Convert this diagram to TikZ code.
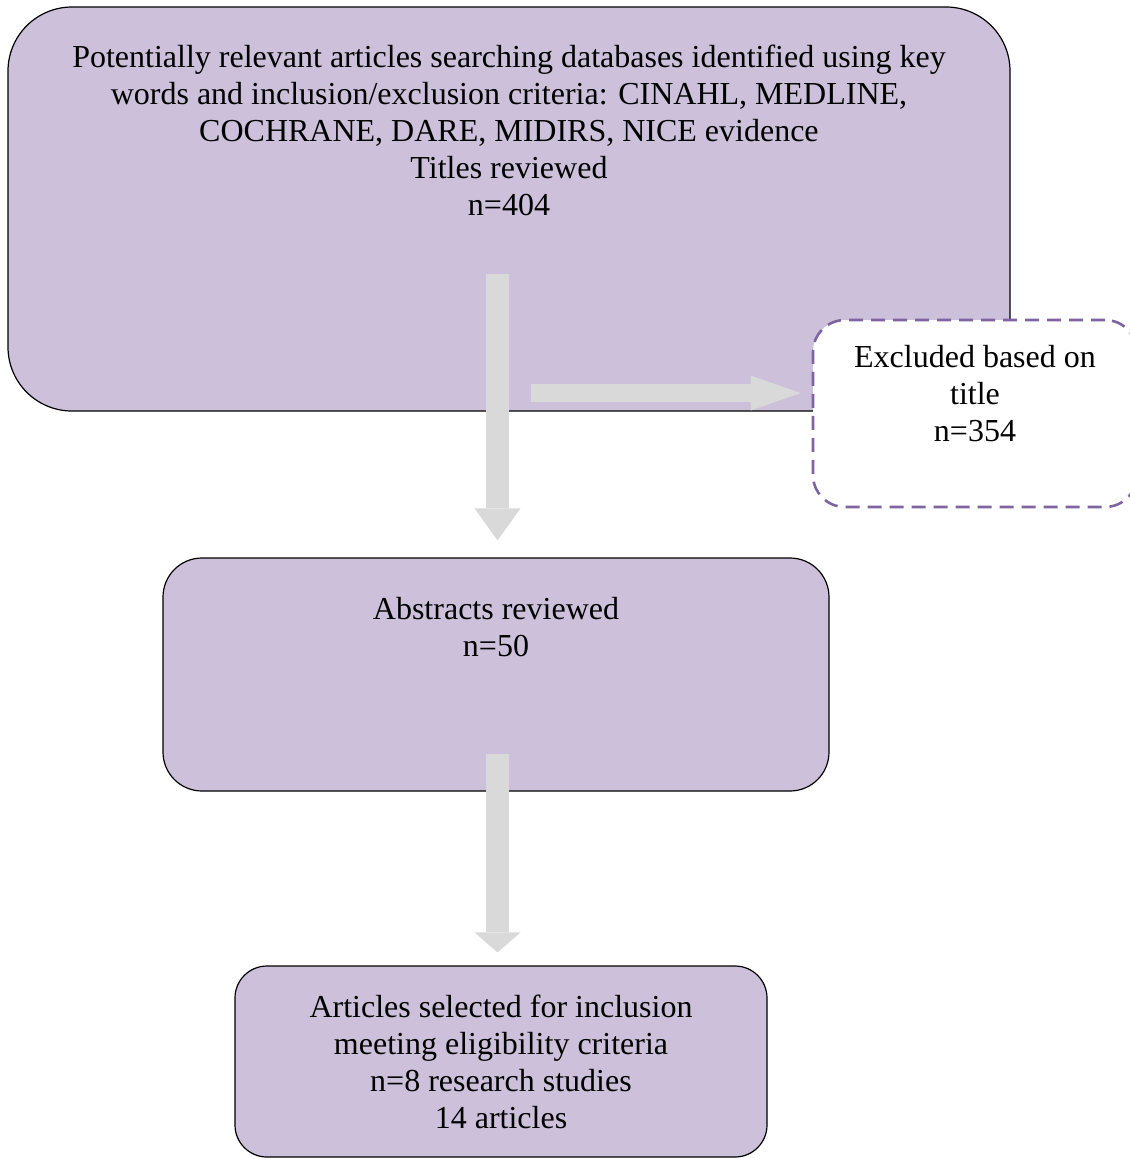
\documentclass[tikz,border=0pt]{standalone}
\usepackage{fontspec}
\setmainfont{Liberation Serif}
\usetikzlibrary{positioning, arrows.meta}
\definecolor{boxfill}{RGB}{204,192,218}
\definecolor{dashpurple}{RGB}{128,100,162}
\definecolor{arrowgray}{RGB}{217,217,217}
\tikzset{
  stagebox/.style={draw=black, line width=0.6pt, fill=boxfill, inner sep=0pt},
  exclbox/.style={draw=dashpurple, line width=1.3pt, dash pattern=on 7pt off 4pt, fill=white, inner sep=0pt, rounded corners=16pt},
  boxtext/.style={align=center, inner sep=0pt, font=\fontsize{16}{18.5}\selectfont},
  flowarrow/.style={draw=arrowgray, line width=11.5pt}
}

\begin{document}
\begin{tikzpicture}[x=0.5pt, y=-0.5pt]
\useasboundingbox (0,0) rectangle (1130,1158);

% boxes
\node[stagebox, minimum width=501pt, minimum height=202pt, rounded corners=32pt] (top) at (509,209) {};
\node[boxtext, below=19pt of top.north] (toptxt) {Potentially relevant articles searching databases identified using key\\
  words and inclusion/exclusion criteria: CINAHL, MEDLINE,\\
  COCHRANE, DARE, MIDIRS, NICE evidence\\
  Titles reviewed\\
  n=404};

\node[exclbox, minimum width=162pt, minimum height=93.5pt] (excl) at (975,413.5) {};
\node[boxtext, below=13pt of excl.north] (excltxt) {Excluded based on\\ title\\ n=354};

\node[stagebox, minimum width=333pt, minimum height=116.5pt, rounded corners=19.5pt] (abs) at (496,674.5) {};
\node[boxtext, below=19.5pt of abs.north] (abstxt) {Abstracts reviewed\\ n=50};

\node[stagebox, minimum width=266pt, minimum height=95.5pt, rounded corners=16pt] (art) at (501,1061.5) {};
\node[boxtext, below=14.5pt of art.north] (arttxt) {Articles selected for inclusion\\
  meeting eligibility criteria\\
  n=8 research studies\\
  14 articles};

% arrows
\draw[flowarrow, -{Triangle[length=16pt, width=23pt, line width=0pt]}]
  ([xshift=0.75pt, yshift=141.5pt]abs.north) -- ([xshift=0.75pt, yshift=8.5pt]abs.north);
\draw[flowarrow, line width=9pt, -{Triangle[length=25pt, width=17.5pt, line width=0pt]}]
  ([xshift=-140.5pt, yshift=10.25pt]excl.west) -- ([xshift=-5.5pt, yshift=10.25pt]excl.west);
\draw[flowarrow, -{Triangle[length=10pt, width=23pt, line width=0pt]}]
  ([xshift=0.75pt, yshift=19pt]abs.south) -- ([xshift=0.75pt, yshift=6.5pt]art.north -| abs.south);
\end{tikzpicture}
\end{document}
